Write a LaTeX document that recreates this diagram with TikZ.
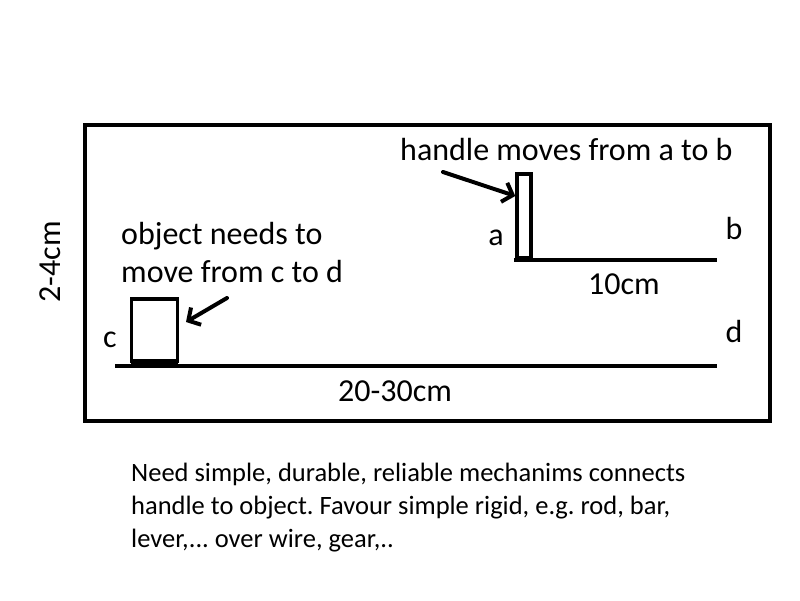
\documentclass[tikz,border=0pt]{standalone}
\usepackage{fontspec}
\setmainfont{Carlito}
\usetikzlibrary{arrows.meta}
\begin{document}
\frenchspacing
\begin{tikzpicture}[x=1pt,y=-1pt,
  thickline/.style={line width=4pt},
  boxline/.style={line width=3.5pt},
  ptr/.style={line width=4pt,line cap=round,-{Straight Barb[length=9pt,width=20pt,line width=4pt]}},
  lbl/.style={inner sep=0pt,font=\fontsize{32}{38}\selectfont},
  big/.style={inner sep=0pt,font=\fontsize{32}{38}\selectfont,align=left},
  note/.style={inner sep=0pt,anchor=base west,font=\fontsize{26.5}{33}\selectfont},
]
\useasboundingbox (0,0) rectangle (800,600);
% outer frame
\draw[line width=4pt] (85,125) rectangle (770,421);
\node[lbl,rotate=90] (h) at (50,262) {2-4cm};
% handle
\node[draw,boxline,minimum width=14pt,minimum height=84pt,inner sep=0pt] (handle) at (524,216) {};
\coordinate (a0) at (514,260);
\coordinate (b0) at (717,260);
\draw[thickline] (a0) -- (b0);
\draw[line width=3pt] (516,257) -- (532,257);
\node[lbl,anchor=base] (a) at (496,245) {a};
\node[lbl,anchor=base] (b) at (734,239) {b};
\node[lbl,anchor=base] (ten) at (624,294) {10cm};
\node[big,anchor=base west] (ht) at (400,160) {handle moves from a to b};
\coordinate (p1) at (443,172);
\draw[ptr] (p1) -- (handle.west |- 0,196);
% object
\node[draw,boxline,minimum width=46pt,minimum height=62pt,inner sep=0pt] (obj) at (154.5,330) {};
\coordinate (c0) at (115,366);
\coordinate (d0) at (717,366);
\draw[thickline] (c0) -- (d0);
\draw[line width=3pt] (131,362) -- (178,362);
\node[lbl,anchor=base] (c) at (110,347) {c};
\node[lbl,anchor=base] (d) at (734,342) {d};
\node[lbl,anchor=base] (tw) at (395,401) {20-30cm};
\node[big,anchor=base west] (ot1) at (121,244) {object needs to};
\node[big,anchor=base west] (ot2) at (121,282) {move from c to d};
\coordinate (p2) at (227,298);
\draw[ptr] (p2) -- (186,322);
% note
\node[note] (n1) at (131,481) {Need simple, durable, reliable mechanims connects};
\node[note] (n2) at (131,514) {handle to object. Favour simple rigid, e.g. rod, bar,};
\node[note] (n3) at (131,547) {lever,... over wire, gear,..};
\end{tikzpicture}
\end{document}
